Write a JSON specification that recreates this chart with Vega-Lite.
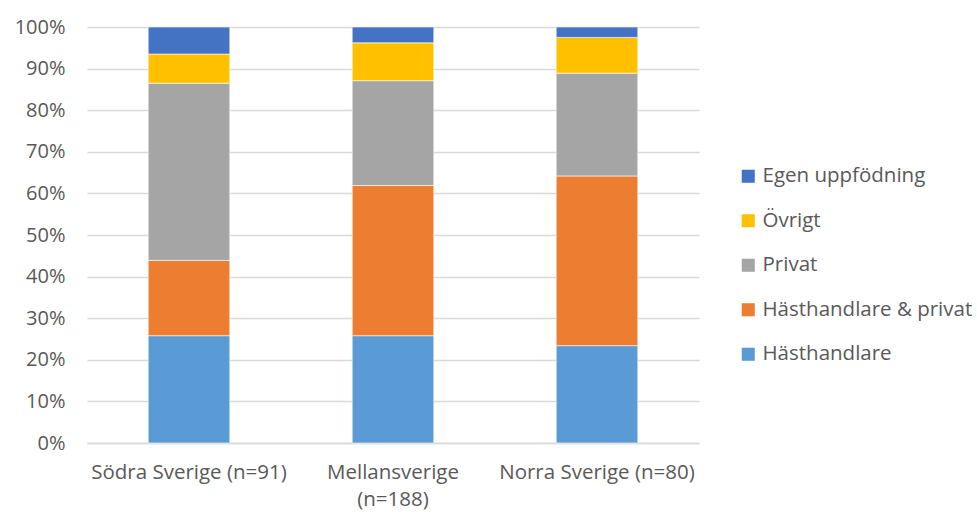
{
  "$schema": "https://vega.github.io/schema/vega-lite/v6.json",
  "width": 612,
  "height": 416,
  "autosize": "none",
  "padding": {"left": 87, "top": 27, "right": 278, "bottom": 69},
  "background": "white",
  "config": {
    "font": "Open Sans",
    "view": {"stroke": null}
  },
  "data": {
    "values": [
      {"region": "Södra Sverige (n=91)", "kategori": "Hästhandlare", "ord": 1, "andel": 25.8},
      {"region": "Södra Sverige (n=91)", "kategori": "Hästhandlare & privat", "ord": 2, "andel": 18.1},
      {"region": "Södra Sverige (n=91)", "kategori": "Privat", "ord": 3, "andel": 42.6},
      {"region": "Södra Sverige (n=91)", "kategori": "Övrigt", "ord": 4, "andel": 7.0},
      {"region": "Södra Sverige (n=91)", "kategori": "Egen uppfödning", "ord": 5, "andel": 6.5},
      {"region": "Mellansverige (n=188)", "kategori": "Hästhandlare", "ord": 1, "andel": 25.8},
      {"region": "Mellansverige (n=188)", "kategori": "Hästhandlare & privat", "ord": 2, "andel": 36.1},
      {"region": "Mellansverige (n=188)", "kategori": "Privat", "ord": 3, "andel": 25.2},
      {"region": "Mellansverige (n=188)", "kategori": "Övrigt", "ord": 4, "andel": 9.1},
      {"region": "Mellansverige (n=188)", "kategori": "Egen uppfödning", "ord": 5, "andel": 3.8},
      {"region": "Norra Sverige (n=80)", "kategori": "Hästhandlare", "ord": 1, "andel": 23.4},
      {"region": "Norra Sverige (n=80)", "kategori": "Hästhandlare & privat", "ord": 2, "andel": 40.8},
      {"region": "Norra Sverige (n=80)", "kategori": "Privat", "ord": 3, "andel": 24.7},
      {"region": "Norra Sverige (n=80)", "kategori": "Övrigt", "ord": 4, "andel": 8.6},
      {"region": "Norra Sverige (n=80)", "kategori": "Egen uppfödning", "ord": 5, "andel": 2.5}
    ]
  },
  "mark": {"type": "bar", "stroke": "white", "strokeWidth": 0.6},
  "encoding": {
    "x": {
      "field": "region",
      "type": "nominal",
      "sort": ["Södra Sverige (n=91)", "Mellansverige (n=188)", "Norra Sverige (n=80)"],
      "scale": {"paddingInner": 0.6, "paddingOuter": 0.3},
      "axis": {
        "title": null,
        "labelAngle": 0,
        "labelFontSize": 20.5,
        "labelColor": "#595959",
        "labelPadding": 19,
        "labelLineHeight": 27,
        "labelLimit": 400,
        "ticks": false,
        "domainColor": "#d9d9d9",
        "domainWidth": 1.3,
        "labelExpr": "datum.label == 'Mellansverige (n=188)' ? ['Mellansverige', '(n=188)'] : datum.label"
      }
    },
    "y": {
      "field": "andel",
      "type": "quantitative",
      "stack": "zero",
      "scale": {"domain": [0, 100]},
      "axis": {
        "title": null,
        "values": [0, 10, 20, 30, 40, 50, 60, 70, 80, 90, 100],
        "labelExpr": "datum.value + '%'",
        "labelFontSize": 20,
        "labelColor": "#595959",
        "labelPadding": 22,
        "ticks": false,
        "domain": false,
        "gridColor": "#d9d9d9",
        "gridWidth": 1.3
      }
    },
    "color": {
      "field": "kategori",
      "type": "nominal",
      "scale": {
        "domain": ["Egen uppfödning", "Övrigt", "Privat", "Hästhandlare & privat", "Hästhandlare"],
        "range": ["#4472C4", "#FFC000", "#A5A5A5", "#ED7D31", "#5B9BD5"]
      },
      "legend": {
        "title": null,
        "orient": "none",
        "legendX": 651,
        "legendY": 139,
        "symbolType": "square",
        "symbolSize": 170,
        "symbolStrokeWidth": 0,
        "labelFontSize": 20.5,
        "labelColor": "#595959",
        "labelOffset": 4,
        "rowPadding": 23.5,
        "labelLimit": 300
      }
    },
    "order": {"field": "ord", "type": "quantitative"}
  }
}
